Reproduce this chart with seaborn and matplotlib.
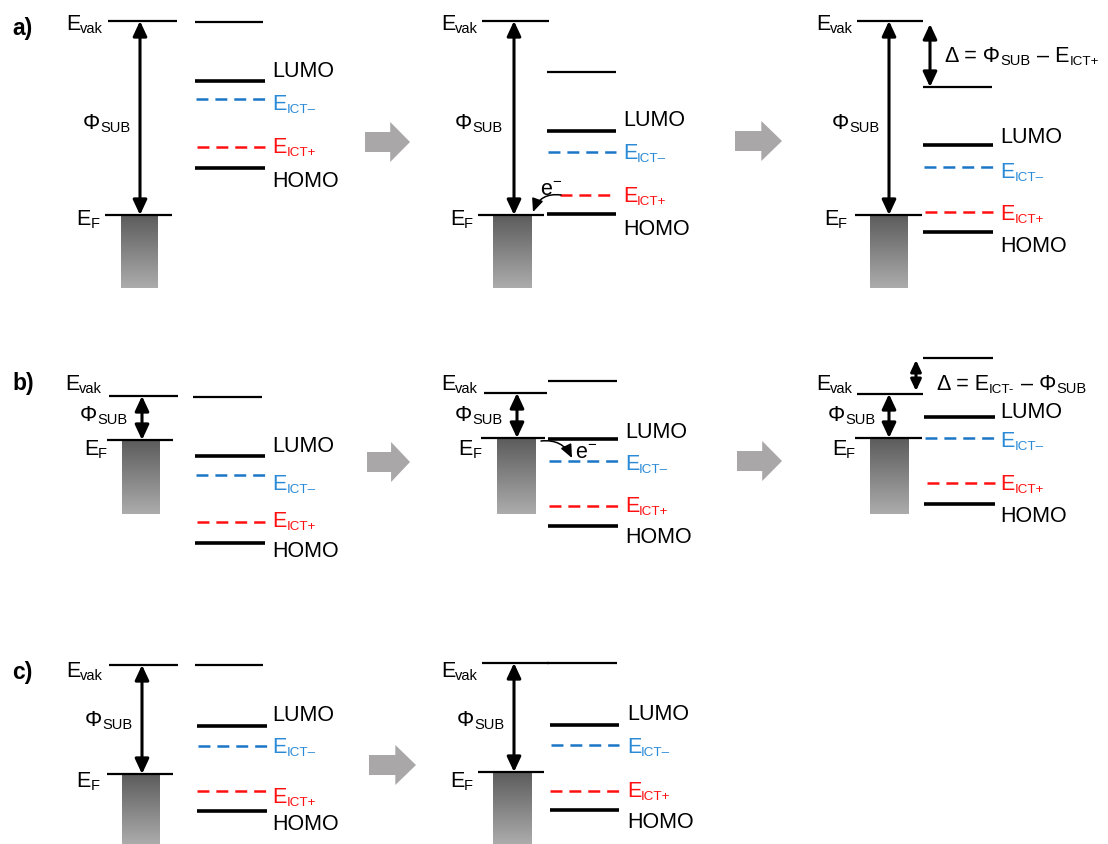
import numpy as np
import matplotlib
matplotlib.use("Agg")
import matplotlib.pyplot as plt
import seaborn as sns
from matplotlib.patches import FancyArrowPatch, Polygon
from matplotlib.colors import LinearSegmentedColormap

# ---------------- data: energy levels (pixel rows, 0 = top) per panel ----------------
panels   = ["a1", "a2", "a3", "b1", "b2", "b3", "c1", "c2"]
evac_y   = [22, 22, 22, 397, 394, 395, 666, 664]      # substrate vacuum level
ef_y     = [216, 216, 216, 441, 439, 439, 775, 773]   # Fermi level
molvac_y = [23, 73, 88, 398, 382, 359, 666, 664]      # molecule vacuum level
lumo_y   = [82, 132, 146, 457, 440, 418, 727, 726]
ictm_y   = [100, 153, 168, 476, 462, 439, 747, 746]   # E_ICT-
ictp_y   = [148, 196, 213, 523, 507, 484, 792, 792]   # E_ICT+
homo_y   = [169, 215, 233, 544, 527, 505, 812, 811]
row_letters = ["a)", "b)", "c)"]

# ---------------- layout ----------------
W, H = 1108, 845
evac_x   = [(108, 177), (482, 549), (857, 923), (109, 178), (484, 547), (857, 923), (109, 178), (482, 549)]
ef_x     = [(105, 172), (478, 544), (855, 922), (107, 173), (481, 545), (855, 922), (107, 173), (478, 544)]
sub_x    = [(121, 158), (493, 532), (870, 908), (122, 160), (497, 536), (870, 909), (122, 160), (493, 532)]
sub_bot  = [289, 289, 289, 515, 515, 515, 845, 845]
arr_x    = [140, 514, 889, 142, 517, 889, 142, 514]
mol_x    = [(195, 265), (547, 616), (923, 993), (195, 265), (548, 618), (924, 995), (197, 267), (550, 619)]
molvac_x = [(195, 263), (547, 616), (923, 992), (193, 262), (548, 617), (923, 993), (195, 263), (547, 617)]
ictp_x0  = [197, 560, 925, 197, 549, 927, 197, 550]

evak_lab_r = [103, 478, 853, 102, 478, 853, 103, 478]
evak_lab_b = [30, 30, 30, 390, 390, 390, 677, 677]
ef_lab_r   = [100, 473, 847, 107, 482, 855, 100, 473]
ef_lab_b   = [225, 225, 225, 455, 455, 455, 787, 787]
phi_lab_x  = [83, 455, 832, 80, 455, 828, 85, 457]
phi_lab_b  = [129, 129, 129, 421, 421, 421, 726, 726]
mol_lab_x  = [272, 623, 1000, 272, 625, 1000, 272, 627]
lumo_lab_b = [77, 126, 143, 452, 438, 418, 721, 720]
ictm_lab_b = [110, 159, 178, 490, 470, 447, 753, 753]
ictp_lab_b = [153, 202, 220, 527, 512, 490, 803, 797]
homo_lab_b = [187, 235, 252, 557, 543, 522, 830, 828]
letter_pos = [(12, 35), (12, 390), (12, 679)]
gray_arrows = [(365, 410, 143), (735, 782, 142), (367, 410, 463), (737, 782, 462), (369, 416, 766)]

BLUE_L, BLUE_T = "#1b77c6", "#2b8ad6"
RED = "#ff1010"
GRAY = "#a9a7a7"

sns.set_theme(style="white")
plt.rcParams["font.family"] = ["Liberation Sans", "DejaVu Sans"]
plt.rcParams["lines.scale_dashes"] = False

fig = plt.figure(figsize=(W / 100, H / 100), dpi=100)
ax = fig.add_axes([0, 0, 1, 1])
ax.set_xlim(0, W)
ax.set_ylim(H, 0)
ax.axis("off")
renderer = fig.canvas.get_renderer()
FS = 15.5


def rich(x, y, segs, size=FS, color="black", ha="left", weight="normal"):
    placed, total = [], 0.0
    for seg in segs:
        if seg[0] == "gap":
            placed.append(("gap", seg[1]))
            total += seg[1]
            continue
        txt, kind = seg[0], seg[1]
        scale = seg[2] if len(seg) > 2 else (1.0 if kind == "n" else 0.68)
        t = ax.text(0, 0, txt, fontsize=size * scale, color=color, ha="left",
                    va="baseline", fontweight=weight)
        w = t.get_window_extent(renderer).width
        placed.append((t, kind, w))
        total += w
    cur = x - total if ha == "right" else x
    px = size * 100 / 72
    for p in placed:
        if p[0] == "gap":
            cur += p[1]
            continue
        t, kind, w = p
        dy = {"n": 0.0, "sub": 0.16 * px, "sup": -0.42 * px}[kind]
        t.set_position((cur, y + dy))
        cur += w


def darrow(x, y0, y1, ms=10):
    ax.add_patch(FancyArrowPatch((x, y0), (x, y1),
                                 arrowstyle="<|-|>,head_length=0.9,head_width=0.42",
                                 mutation_scale=ms, lw=2.2, color="black",
                                 shrinkA=0, shrinkB=0, zorder=5))


cmap = LinearSegmentedColormap.from_list("sub", ["#5c5c5c", "#acacac"])
grad = np.linspace(0, 1, 256).reshape(-1, 1)

for i, p in enumerate(panels):
    # substrate block
    x0, x1 = sub_x[i]
    ax.imshow(grad, cmap=cmap, extent=(x0, x1, sub_bot[i], ef_y[i]), origin="upper",
              aspect="auto", interpolation="bilinear", zorder=1)
    # substrate levels
    ax.hlines(evac_y[i], *evac_x[i], color="black", lw=1.6, zorder=3)
    ax.hlines(ef_y[i], *ef_x[i], color="black", lw=1.6, zorder=3)
    # molecule levels
    mx0, mx1 = mol_x[i]
    ax.hlines(molvac_y[i], *molvac_x[i], color="black", lw=1.6, zorder=3)
    ax.hlines(lumo_y[i], mx0, mx1, color="black", lw=2.6, zorder=3)
    ax.hlines(homo_y[i], mx0, mx1, color="black", lw=2.6, zorder=3)
    ax.hlines(ictm_y[i], mx0 + 1, mx1, color=BLUE_L, lw=1.8, zorder=3,
              linestyles=[(0, (8.6, 5.0))])
    ax.hlines(ictp_y[i], ictp_x0[i], mx1, color=RED, lw=1.8, zorder=3,
              linestyles=[(0, (8.6, 5.0))])
    # work function arrow
    darrow(arr_x[i], evac_y[i], ef_y[i])
    # labels
    rich(evak_lab_r[i], evak_lab_b[i], [("E", "n"), ("vak", "sub")], ha="right")
    rich(ef_lab_r[i], ef_lab_b[i], [("E", "n"), ("F", "sub")], ha="right")
    rich(phi_lab_x[i], phi_lab_b[i], [("Φ", "n"), ("SUB", "sub")])
    lx = mol_lab_x[i]
    rich(lx, lumo_lab_b[i], [("LUMO", "n")])
    rich(lx, ictm_lab_b[i], [("E", "n"), ("ICT–", "sub", 0.62)], color=BLUE_T)
    rich(lx, ictp_lab_b[i], [("E", "n"), ("ICT+", "sub", 0.62)], color=RED)
    rich(lx, homo_lab_b[i], [("HOMO", "n")])

# panel letters
for (lx, ly), s in zip(letter_pos, row_letters):
    rich(lx, ly, [(s, "n")], size=16.5, weight="bold")

# interface dipole arrows and formulas
darrow(930, 25, 88)
rich(945, 62, [("Δ = Φ", "n"), ("SUB", "sub"), ("gap", 7), ("– E", "n"), ("ICT+", "sub", 0.62)])
darrow(916, 361, 392, ms=7.5)
rich(937, 390, [("Δ = E", "n"), ("ICT-", "sub", 0.62), ("gap", 7), ("– Φ", "n"), ("SUB", "sub")])

# electron transfer arrows
ax.add_patch(FancyArrowPatch((561, 196), (533, 213), connectionstyle="arc3,rad=0.4",
                             arrowstyle="-|>,head_length=0.8,head_width=0.35",
                             mutation_scale=10, lw=1.1, color="black", shrinkA=0, shrinkB=0, zorder=6))
rich(540, 195, [("e", "n"), ("−", "sup", 0.7)])
ax.add_patch(FancyArrowPatch((541, 442), (572, 459), connectionstyle="arc3,rad=-0.35",
                             arrowstyle="-|>,head_length=0.8,head_width=0.35",
                             mutation_scale=10, lw=1.1, color="black", shrinkA=0, shrinkB=0, zorder=6))
rich(575, 458, [("e", "n"), ("−", "sup", 0.7)])

# grey process arrows
for x0, x1, yc in gray_arrows:
    xh = x0 + 0.56 * (x1 - x0)
    pts = [(x0, yc - 10), (xh, yc - 10), (xh, yc - 20), (x1, yc),
           (xh, yc + 20), (xh, yc + 10), (x0, yc + 10)]
    ax.add_patch(Polygon(pts, closed=True, facecolor=GRAY, edgecolor="none", zorder=2))

ax.set_xlim(0, W)
ax.set_ylim(H, 0)
fig.savefig("out.png", dpi=100)
